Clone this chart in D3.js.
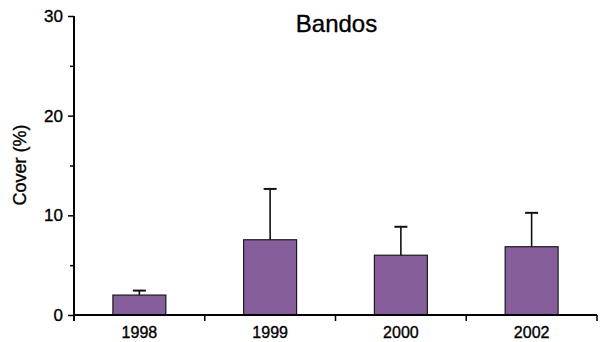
<!DOCTYPE html>
<html>
<head>
<meta charset="utf-8">
<script src="https://cdn.jsdelivr.net/npm/d3@7"></script>
<style>
  html, body { margin: 0; padding: 0; background: #fff; }
  svg { display: block; font-family: "Liberation Sans", Arial, Helvetica, sans-serif; }
  .txt { fill: #000; stroke: #000; stroke-width: 0.35px; }
</style>
</head>
<body>
<svg id="chart" width="600" height="342"></svg>
<script>
const categories = ["1998", "1999", "2000", "2002"];
const values = [2.0, 7.55, 6.0, 6.85];
const errors = [0.45, 5.1, 2.85, 3.4];
const yMajorTicks = [0, 10, 20, 30];
const yMinorTicks = [5, 15, 25];
const title = "Bandos";
const yLabel = "Cover (%)";

const svg = d3.select("#chart");
const mLeft = 74, mRight = 597, mTop = 16, mBottom = 315;

const x = d3.scaleBand().domain(categories).range([mLeft, mRight])
  .paddingInner(0.595).paddingOuter(0.2975);
const y = d3.scaleLinear().domain([0, 30]).range([mBottom, mTop]);

// bars
svg.append("g").selectAll("rect").data(categories).join("rect")
  .attr("x", d => x(d))
  .attr("y", (d, i) => y(values[i]))
  .attr("width", x.bandwidth())
  .attr("height", (d, i) => y(0) - y(values[i]))
  .attr("fill", "#865e9c")
  .attr("stroke", "#1a1a1a")
  .attr("stroke-width", 1.2);

// error bars
const eg = svg.append("g").attr("stroke", "#111").attr("stroke-width", 1.6);
categories.forEach((c, i) => {
  const cx = x(c) + x.bandwidth() / 2;
  eg.append("line").attr("x1", cx).attr("x2", cx)
    .attr("y1", y(values[i])).attr("y2", y(values[i] + errors[i]));
  eg.append("line").attr("x1", cx - 6.5).attr("x2", cx + 6.5)
    .attr("y1", y(values[i] + errors[i])).attr("y2", y(values[i] + errors[i]))
    .attr("stroke-width", 2);
});

// y axis
const yAxis = d3.axisLeft(y).tickValues(yMajorTicks).tickSize(6).tickPadding(5).tickFormat(d3.format("d"));
const yg = svg.append("g").attr("transform", `translate(${mLeft},0)`).call(yAxis);
yg.select(".domain").remove();
yg.selectAll(".tick line").attr("stroke", "#000").attr("stroke-width", 1.5);
yg.selectAll(".tick text").attr("class", "txt").attr("font-size", 17)
  .attr("font-family", '"Liberation Sans", Arial, sans-serif');
const yMinor = d3.axisLeft(y).tickValues(yMinorTicks).tickSize(4).tickFormat("");
const ym = svg.append("g").attr("transform", `translate(${mLeft},0)`).call(yMinor);
ym.select(".domain").remove();
ym.selectAll(".tick line").attr("stroke", "#000").attr("stroke-width", 1.5);
svg.append("line").attr("x1", mLeft).attr("x2", mLeft).attr("y1", y(30)).attr("y2", mBottom + 6)
  .attr("stroke", "#000").attr("stroke-width", 2);

// x axis
svg.append("line").attr("x1", mLeft).attr("x2", mRight).attr("y1", mBottom).attr("y2", mBottom)
  .attr("stroke", "#000").attr("stroke-width", 2);
const boundaries = categories.map(c => x(c) - x.step() * x.paddingInner() / 2).slice(1).concat([mRight]);
svg.append("g").selectAll("line").data(boundaries).join("line")
  .attr("x1", d => d).attr("x2", d => d).attr("y1", mBottom).attr("y2", mBottom + 6)
  .attr("stroke", "#000").attr("stroke-width", 1.5);
svg.append("g").selectAll("text").data(categories).join("text")
  .attr("class", "txt")
  .attr("x", d => x(d) + x.bandwidth() / 2)
  .attr("y", 338)
  .attr("text-anchor", "middle")
  .attr("font-size", 16)
  .text(d => d);

// title
svg.append("text").attr("class", "txt").attr("x", 336.5).attr("y", 32).attr("text-anchor", "middle")
  .attr("font-size", 24).text(title);

// y label
svg.append("text").attr("class", "txt").attr("transform", "translate(26,165) rotate(-90)")
  .attr("text-anchor", "middle").attr("font-size", 18).text(yLabel);
</script>
</body>
</html>
